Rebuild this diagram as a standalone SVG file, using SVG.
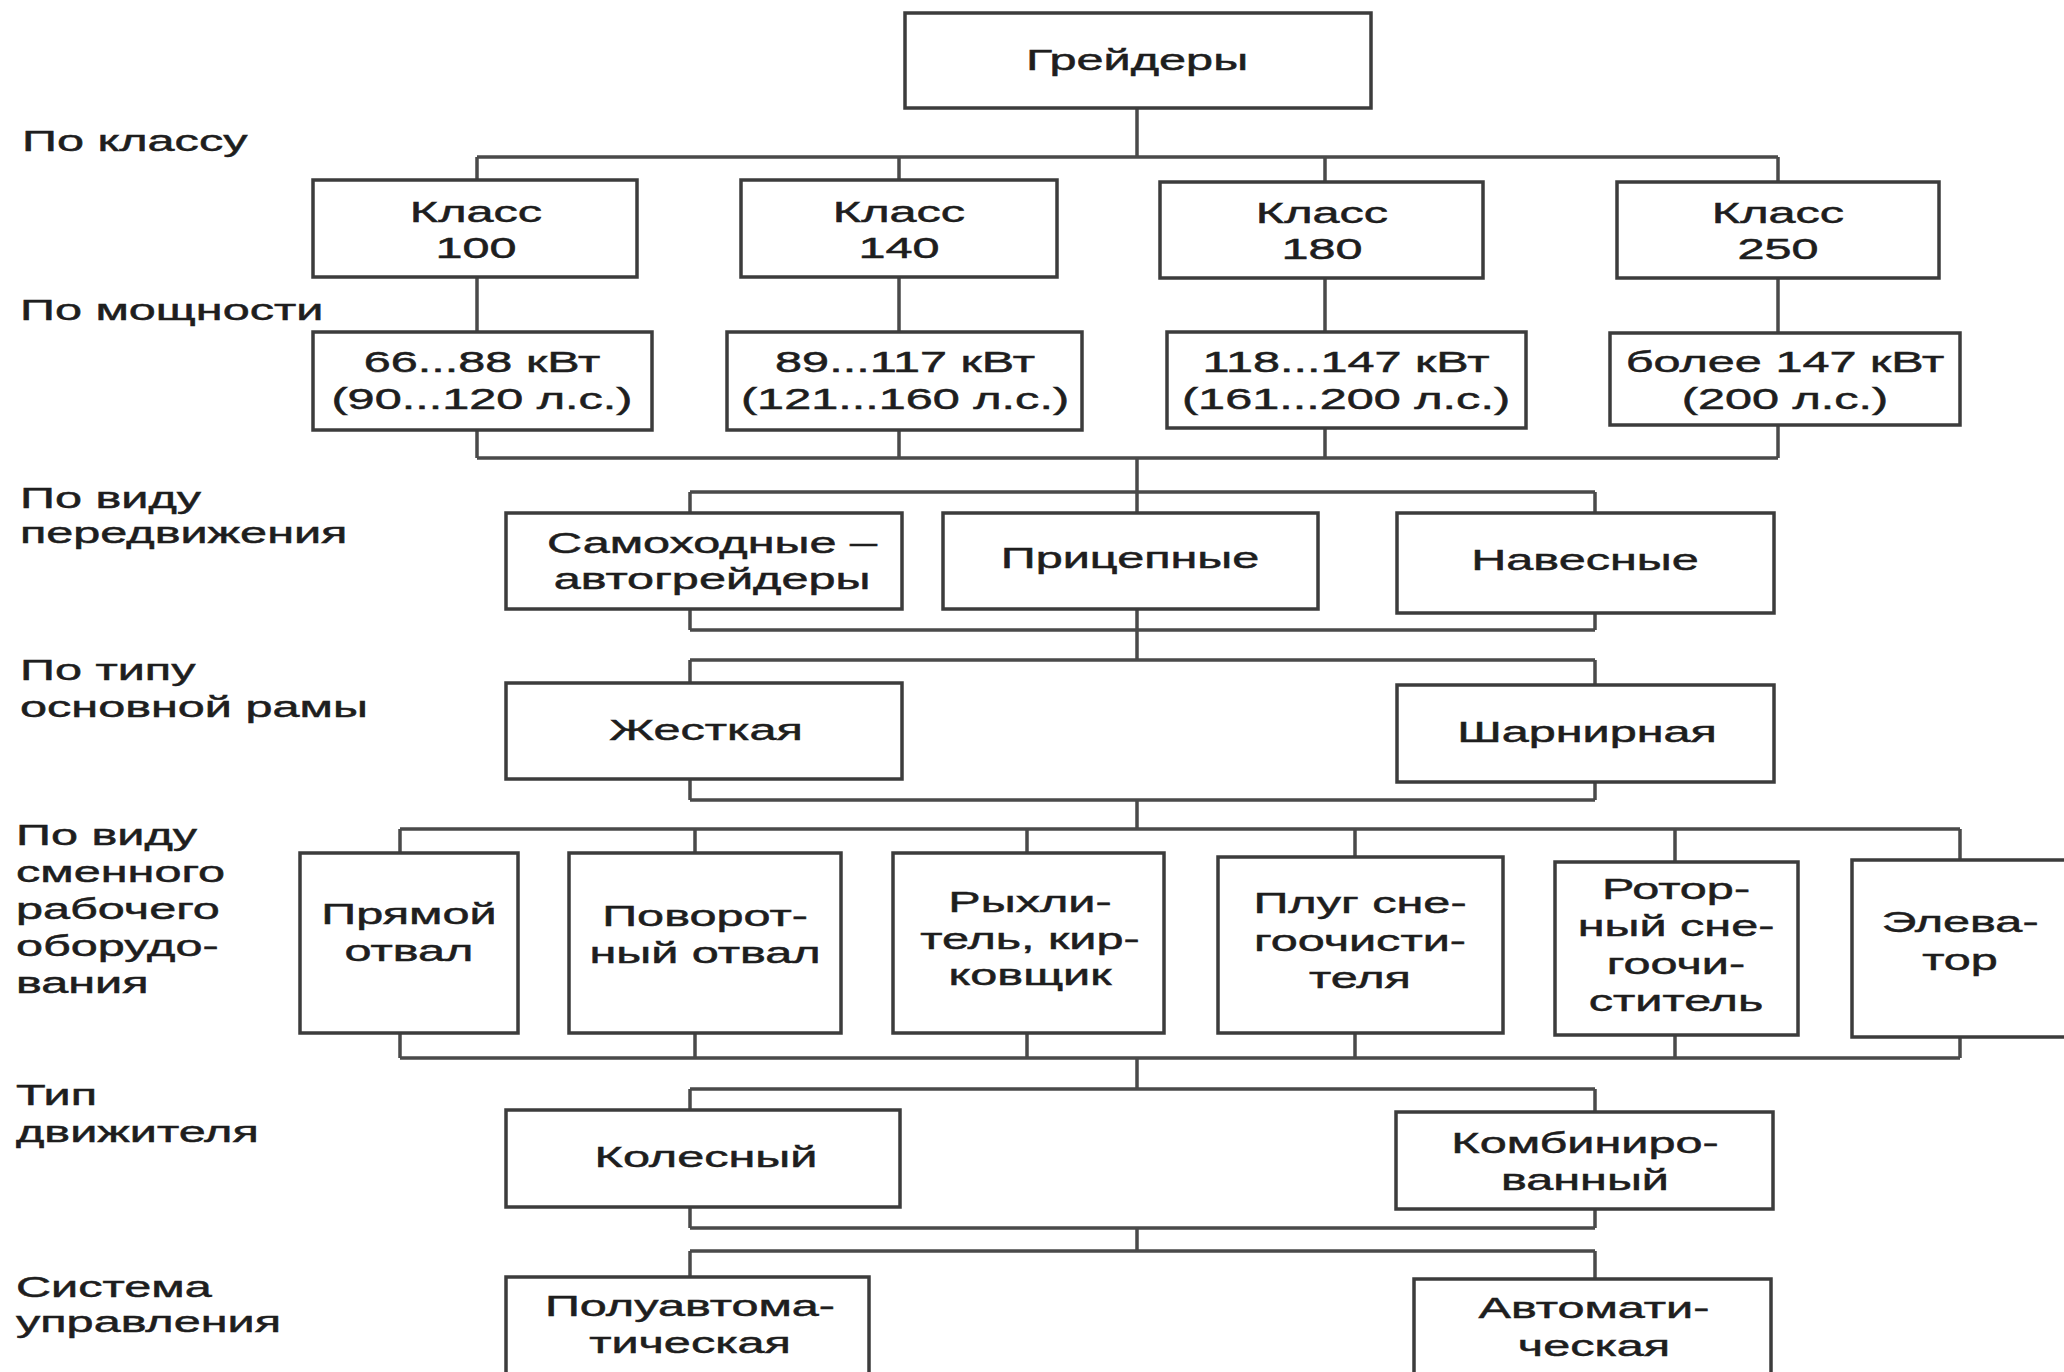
<svg xmlns="http://www.w3.org/2000/svg" width="2064" height="1372" viewBox="0 0 2064 1372">
<style>
.bg{fill:#fff}
.box{fill:#fff;stroke:#3c3c3c;stroke-width:3.5}
.ln{fill:none;stroke:#4a4a4a;stroke-width:3.5}
.t{font-family:"Liberation Sans",Arial,sans-serif;font-size:30px;fill:#1e1e1e;stroke:#1e1e1e;stroke-width:0.5}
.c{text-anchor:middle}
</style>
<rect class="bg" x="0" y="0" width="2064" height="1372"/>
<g id="labels">
<text class="t" transform="matrix(1.62 0 0 1 22 151)">По классу</text>
<text class="t" transform="matrix(1.62 0 0 1 20 320)">По мощности</text>
<text class="t" transform="matrix(1.62 0 0 1 20 0)"><tspan x="0" y="508">По виду</tspan><tspan x="0" y="543">передвижения</tspan></text>
<text class="t" transform="matrix(1.62 0 0 1 20 0)"><tspan x="0" y="680">По типу</tspan><tspan x="0" y="717">основной рамы</tspan></text>
<text class="t" transform="matrix(1.62 0 0 1 16 0)"><tspan x="0" y="845">По виду</tspan><tspan x="0" y="882">сменного</tspan><tspan x="0" y="919">рабочего</tspan><tspan x="0" y="956">оборудо-</tspan><tspan x="0" y="993">вания</tspan></text>
<text class="t" transform="matrix(1.62 0 0 1 16 0)"><tspan x="0" y="1105">Тип</tspan><tspan x="0" y="1142">движителя</tspan></text>
<text class="t" transform="matrix(1.62 0 0 1 16 0)"><tspan x="0" y="1297">Система</tspan><tspan x="0" y="1332">управления</tspan></text>
</g>
<g id="connectors">
<path class="ln" d="M1137 108V157M477 157H1778M477 157V180M899 157V180M1325 157V182M1778 157V182"/>
<path class="ln" d="M477 277V332M899 277V332M1325 278V332M1778 278V333"/>
<path class="ln" d="M477 430V458M899 430V458M1325 428V458M1778 425V458M477 458H1778M1137 458V492"/>
<path class="ln" d="M690 492H1595M690 492V513M1137 492V513M1595 492V513"/>
<path class="ln" d="M690 609V630M1137 609V630M1595 613V630M690 630H1595M1137 630V660"/>
<path class="ln" d="M690 660H1595M690 660V683M1595 660V685"/>
<path class="ln" d="M690 779V800M1595 782V800M690 800H1595M1137 800V829"/>
<path class="ln" d="M400 829H1960M400 829V853M695 829V853M1027 829V853M1355 829V857M1675 829V862M1960 829V860"/>
<path class="ln" d="M400 1033V1058M695 1033V1058M1027 1033V1058M1355 1033V1058M1675 1035V1058M1960 1037V1058M400 1058H1960M1137 1058V1089"/>
<path class="ln" d="M690 1089H1595M690 1089V1110M1595 1089V1112"/>
<path class="ln" d="M690 1207V1228M1595 1209V1228M690 1228H1595M1137 1228V1251"/>
<path class="ln" d="M690 1251H1595M690 1251V1277M1595 1251V1279"/>
</g>
<g id="n-graders">
<rect class="box" x="905" y="13" width="466" height="95"/>
<text class="t c" transform="matrix(1.62 0 0 1 1137 70)">Грейдеры</text>
</g>
<g id="n-class100">
<rect class="box" x="313" y="180" width="324" height="97"/>
<text class="t c" transform="matrix(1.62 0 0 1 476 0)"><tspan x="0" y="222">Класс</tspan><tspan x="0" y="258">100</tspan></text>
</g>
<g id="n-class140">
<rect class="box" x="741" y="180" width="316" height="97"/>
<text class="t c" transform="matrix(1.62 0 0 1 899 0)"><tspan x="0" y="222">Класс</tspan><tspan x="0" y="258">140</tspan></text>
</g>
<g id="n-class180">
<rect class="box" x="1160" y="182" width="323" height="96"/>
<text class="t c" transform="matrix(1.62 0 0 1 1322 0)"><tspan x="0" y="223">Класс</tspan><tspan x="0" y="259">180</tspan></text>
</g>
<g id="n-class250">
<rect class="box" x="1617" y="182" width="322" height="96"/>
<text class="t c" transform="matrix(1.62 0 0 1 1778 0)"><tspan x="0" y="223">Класс</tspan><tspan x="0" y="259">250</tspan></text>
</g>
<g id="n-p1">
<rect class="box" x="313" y="332" width="339" height="98"/>
<text class="t c" transform="matrix(1.62 0 0 1 482 0)"><tspan x="0" y="372">66...88 кВт</tspan><tspan x="0" y="409">(90...120 л.с.)</tspan></text>
</g>
<g id="n-p2">
<rect class="box" x="727" y="332" width="355" height="98"/>
<text class="t c" transform="matrix(1.62 0 0 1 905 0)"><tspan x="0" y="372">89...117 кВт</tspan><tspan x="0" y="409">(121...160 л.с.)</tspan></text>
</g>
<g id="n-p3">
<rect class="box" x="1167" y="332" width="359" height="96"/>
<text class="t c" transform="matrix(1.62 0 0 1 1346 0)"><tspan x="0" y="372">118...147 кВт</tspan><tspan x="0" y="409">(161...200 л.с.)</tspan></text>
</g>
<g id="n-p4">
<rect class="box" x="1610" y="333" width="350" height="92"/>
<text class="t c" transform="matrix(1.62 0 0 1 1785 0)"><tspan x="0" y="372">более 147 кВт</tspan><tspan x="0" y="409">(200 л.с.)</tspan></text>
</g>
<g id="n-selfprop">
<rect class="box" x="506" y="513" width="396" height="96"/>
<text class="t c" transform="matrix(1.62 0 0 1 712 0)"><tspan x="0" y="553">Самоходные –</tspan><tspan x="0" y="589">автогрейдеры</tspan></text>
</g>
<g id="n-trailed">
<rect class="box" x="943" y="513" width="375" height="96"/>
<text class="t c" transform="matrix(1.62 0 0 1 1130 568)">Прицепные</text>
</g>
<g id="n-mounted">
<rect class="box" x="1397" y="513" width="377" height="100"/>
<text class="t c" transform="matrix(1.62 0 0 1 1585 570)">Навесные</text>
</g>
<g id="n-rigid">
<rect class="box" x="506" y="683" width="396" height="96"/>
<text class="t c" transform="matrix(1.62 0 0 1 706 740)">Жесткая</text>
</g>
<g id="n-hinged">
<rect class="box" x="1397" y="685" width="377" height="97"/>
<text class="t c" transform="matrix(1.62 0 0 1 1587 742)">Шарнирная</text>
</g>
<g id="n-straight">
<rect class="box" x="300" y="853" width="218" height="180"/>
<text class="t c" transform="matrix(1.62 0 0 1 409 0)"><tspan x="0" y="924">Прямой</tspan><tspan x="0" y="961">отвал</tspan></text>
</g>
<g id="n-rotary">
<rect class="box" x="569" y="853" width="272" height="180"/>
<text class="t c" transform="matrix(1.62 0 0 1 705 0)"><tspan x="0" y="926">Поворот-</tspan><tspan x="0" y="963">ный отвал</tspan></text>
</g>
<g id="n-ripper">
<rect class="box" x="893" y="853" width="271" height="180"/>
<text class="t c" transform="matrix(1.62 0 0 1 1030 0)"><tspan x="0" y="912">Рыхли-</tspan><tspan x="0" y="949">тель, кир-</tspan><tspan x="0" y="985">ковщик</tspan></text>
</g>
<g id="n-plough">
<rect class="box" x="1218" y="857" width="285" height="176"/>
<text class="t c" transform="matrix(1.62 0 0 1 1360 0)"><tspan x="0" y="913">Плуг сне-</tspan><tspan x="0" y="951">гоочисти-</tspan><tspan x="0" y="988">теля</tspan></text>
</g>
<g id="n-rotor">
<rect class="box" x="1555" y="862" width="243" height="173"/>
<text class="t c" transform="matrix(1.62 0 0 1 1676 0)"><tspan x="0" y="899">Ротор-</tspan><tspan x="0" y="936">ный сне-</tspan><tspan x="0" y="974">гоочи-</tspan><tspan x="0" y="1011">ститель</tspan></text>
</g>
<g id="n-elevator">
<rect class="box" x="1852" y="860" width="224" height="177"/>
<text class="t c" transform="matrix(1.62 0 0 1 1960 0)"><tspan x="0" y="932">Элева-</tspan><tspan x="0" y="970">тор</tspan></text>
</g>
<g id="n-wheeled">
<rect class="box" x="506" y="1110" width="394" height="97"/>
<text class="t c" transform="matrix(1.62 0 0 1 706 1167)">Колесный</text>
</g>
<g id="n-combined">
<rect class="box" x="1396" y="1112" width="377" height="97"/>
<text class="t c" transform="matrix(1.62 0 0 1 1585 0)"><tspan x="0" y="1153">Комбиниро-</tspan><tspan x="0" y="1190">ванный</tspan></text>
</g>
<g id="n-semiauto">
<rect class="box" x="506" y="1277" width="363" height="130"/>
<text class="t c" transform="matrix(1.62 0 0 1 690 0)"><tspan x="0" y="1316">Полуавтома-</tspan><tspan x="0" y="1353">тическая</tspan></text>
</g>
<g id="n-auto">
<rect class="box" x="1414" y="1279" width="357" height="130"/>
<text class="t c" transform="matrix(1.62 0 0 1 1594 0)"><tspan x="0" y="1318">Автомати-</tspan><tspan x="0" y="1356">ческая</tspan></text>
</g>
</svg>
